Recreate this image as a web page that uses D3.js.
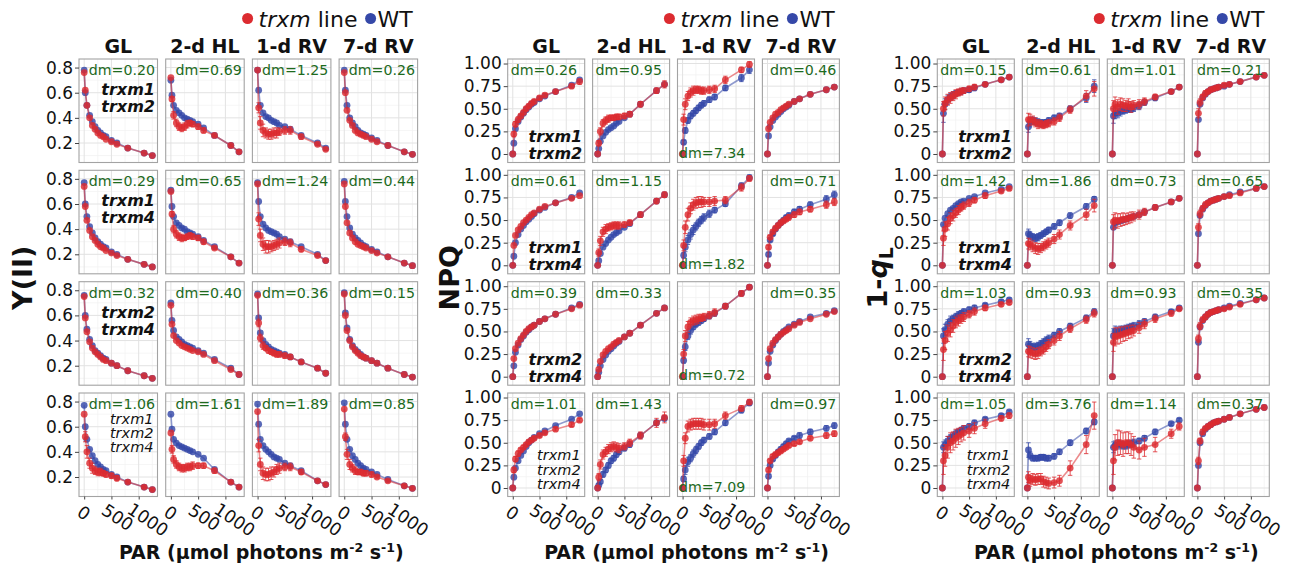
<!DOCTYPE html>
<html>
<head>
<meta charset="utf-8">
<script src="https://cdnjs.cloudflare.com/ajax/libs/d3/7.8.5/d3.min.js"></script>
<style>
  body { margin: 0; background: #fff; }
  svg { display: block; }
</style>
</head>
<body>
<svg id="chart" width="1297" height="570"></svg>
<script>
// light steps of the curve (µmol photons m-2 s-1)
const PAR = [0, 20, 50, 100, 150, 200, 250, 300, 350, 400, 500, 600, 800, 1100, 1250]
const conditions = ['GL', '2-d HL', '1-d RV', '7-d RV']
const lineLabels = [['trxm1', 'trxm2'], ['trxm1', 'trxm4'], ['trxm2', 'trxm4'], ['trxm1', 'trxm2', 'trxm4']]

// dm values, rows x conditions
const yiiDm = [['0.20', '0.69', '1.25', '0.26'], ['0.29', '0.65', '1.24', '0.44'], ['0.32', '0.40', '0.36', '0.15'], ['1.06', '1.61', '1.89', '0.85']]
const npqDm = [['0.26', '0.95', '7.34', '0.46'], ['0.61', '1.15', '1.82', '0.71'], ['0.39', '0.33', '0.72', '0.35'], ['1.01', '1.43', '7.09', '0.97']]
const qlDm = [['0.15', '0.61', '1.01', '0.21'], ['1.42', '1.86', '0.73', '0.65'], ['1.03', '0.93', '0.93', '0.35'], ['1.05', '3.76', '1.14', '0.37']]

// ---- Y(II) ----
const yiiWt = [
  [[0.78, 0.60, 0.50, 0.42, 0.37, 0.33, 0.30, 0.28, 0.26, 0.25, 0.22, 0.20, 0.16, 0.12, 0.10],
   [0.70, 0.58, 0.50, 0.46, 0.44, 0.42, 0.40, 0.39, 0.38, 0.37, 0.35, 0.32, 0.26, 0.18, 0.13],
   [0.78, 0.62, 0.50, 0.44, 0.41, 0.40, 0.38, 0.37, 0.36, 0.34, 0.33, 0.31, 0.26, 0.20, 0.16],
   [0.78, 0.62, 0.50, 0.40, 0.36, 0.33, 0.30, 0.28, 0.27, 0.26, 0.24, 0.22, 0.18, 0.13, 0.11]],
  [[0.77, 0.60, 0.50, 0.42, 0.37, 0.33, 0.30, 0.28, 0.26, 0.25, 0.22, 0.20, 0.16, 0.12, 0.10],
   [0.71, 0.58, 0.50, 0.45, 0.43, 0.41, 0.40, 0.38, 0.37, 0.36, 0.34, 0.31, 0.26, 0.18, 0.13],
   [0.77, 0.62, 0.50, 0.44, 0.41, 0.39, 0.38, 0.37, 0.36, 0.34, 0.32, 0.30, 0.26, 0.20, 0.15],
   [0.78, 0.62, 0.50, 0.41, 0.36, 0.33, 0.31, 0.29, 0.27, 0.26, 0.24, 0.22, 0.18, 0.13, 0.11]],
  [[0.76, 0.60, 0.49, 0.41, 0.36, 0.32, 0.30, 0.28, 0.26, 0.25, 0.22, 0.20, 0.16, 0.12, 0.10],
   [0.70, 0.56, 0.48, 0.43, 0.41, 0.39, 0.37, 0.36, 0.35, 0.34, 0.32, 0.30, 0.25, 0.18, 0.13],
   [0.77, 0.58, 0.46, 0.40, 0.37, 0.35, 0.33, 0.32, 0.31, 0.30, 0.29, 0.27, 0.23, 0.18, 0.14],
   [0.78, 0.62, 0.50, 0.41, 0.36, 0.33, 0.31, 0.29, 0.27, 0.26, 0.24, 0.22, 0.18, 0.13, 0.11]],
  [[0.77, 0.60, 0.50, 0.42, 0.37, 0.33, 0.30, 0.28, 0.26, 0.25, 0.22, 0.20, 0.16, 0.12, 0.10],
   [0.70, 0.58, 0.50, 0.47, 0.45, 0.44, 0.43, 0.42, 0.41, 0.40, 0.38, 0.35, 0.26, 0.16, 0.12],
   [0.78, 0.62, 0.50, 0.45, 0.42, 0.40, 0.38, 0.36, 0.35, 0.34, 0.31, 0.29, 0.25, 0.17, 0.14],
   [0.79, 0.62, 0.50, 0.42, 0.37, 0.34, 0.31, 0.29, 0.27, 0.26, 0.24, 0.22, 0.18, 0.13, 0.11]]
]
const yiiTrxm = [
  [[0.76, 0.62, 0.50, 0.40, 0.34, 0.31, 0.28, 0.26, 0.25, 0.23, 0.21, 0.19, 0.16, 0.12, 0.10],
   [0.72, 0.55, 0.42, 0.36, 0.33, 0.32, 0.33, 0.35, 0.36, 0.35, 0.33, 0.30, 0.26, 0.18, 0.13],
   [0.78, 0.48, 0.36, 0.30, 0.28, 0.27, 0.27, 0.28, 0.28, 0.29, 0.30, 0.30, 0.25, 0.19, 0.15],
   [0.76, 0.60, 0.46, 0.38, 0.34, 0.30, 0.28, 0.27, 0.26, 0.25, 0.23, 0.21, 0.18, 0.13, 0.11]],
  [[0.74, 0.58, 0.47, 0.39, 0.34, 0.31, 0.28, 0.26, 0.25, 0.23, 0.21, 0.19, 0.16, 0.12, 0.10],
   [0.70, 0.52, 0.40, 0.36, 0.34, 0.33, 0.33, 0.34, 0.35, 0.34, 0.33, 0.30, 0.25, 0.18, 0.13],
   [0.76, 0.48, 0.35, 0.28, 0.26, 0.26, 0.26, 0.27, 0.28, 0.29, 0.30, 0.29, 0.24, 0.19, 0.15],
   [0.76, 0.58, 0.45, 0.37, 0.33, 0.30, 0.28, 0.27, 0.26, 0.25, 0.23, 0.21, 0.18, 0.13, 0.11]],
  [[0.75, 0.58, 0.47, 0.39, 0.34, 0.31, 0.29, 0.27, 0.25, 0.24, 0.22, 0.20, 0.16, 0.12, 0.10],
   [0.68, 0.53, 0.44, 0.40, 0.38, 0.36, 0.35, 0.34, 0.33, 0.32, 0.31, 0.29, 0.24, 0.17, 0.13],
   [0.76, 0.54, 0.42, 0.36, 0.34, 0.32, 0.31, 0.30, 0.29, 0.29, 0.28, 0.27, 0.23, 0.18, 0.14],
   [0.77, 0.60, 0.48, 0.40, 0.35, 0.32, 0.30, 0.28, 0.27, 0.26, 0.24, 0.22, 0.18, 0.13, 0.11]],
  [[0.70, 0.52, 0.40, 0.31, 0.27, 0.25, 0.24, 0.24, 0.23, 0.22, 0.21, 0.19, 0.16, 0.12, 0.10],
   [0.55, 0.42, 0.34, 0.30, 0.28, 0.27, 0.27, 0.28, 0.28, 0.29, 0.29, 0.29, 0.25, 0.16, 0.12],
   [0.72, 0.45, 0.30, 0.23, 0.22, 0.22, 0.23, 0.24, 0.26, 0.27, 0.28, 0.28, 0.24, 0.17, 0.14],
   [0.74, 0.52, 0.38, 0.30, 0.27, 0.25, 0.24, 0.24, 0.23, 0.23, 0.22, 0.20, 0.17, 0.13, 0.11]]
]
const yiiTrxmErr = [
  [null,
   [0, .02, .03, .03, .03, .03, .03, .03, .02, .02, .02, .02, .01, .01, .01],
   [0, .04, .05, .05, .04, .04, .04, .04, .04, .03, .03, .03, .02, .01, .01],
   null],
  [null,
   [0, .02, .03, .03, .03, .03, .02, .02, .02, .02, .02, .02, .01, .01, .01],
   [0, .05, .05, .05, .05, .05, .04, .04, .04, .04, .03, .03, .02, .01, .01],
   null],
  [null, null,
   [0, .03, .03, .03, .02, .02, .02, .02, .02, .02, .02, .02, .01, .01, .01],
   null],
  [[0, .04, .05, .04, .04, .03, .03, .03, .02, .02, .02, .02, .01, .01, .01],
   [0, .03, .03, .03, .03, .03, .03, .03, .03, .03, .02, .02, .02, .01, .01],
   [0, .05, .05, .05, .05, .05, .05, .04, .04, .04, .03, .03, .02, .01, .01],
   [0, .03, .04, .04, .03, .03, .02, .02, .02, .02, .02, .01, .01, .01, .01]]
]

// ---- NPQ ----
const npqWt = [
  [[0, 0.12, 0.28, 0.36, 0.41, 0.45, 0.49, 0.52, 0.55, 0.57, 0.61, 0.64, 0.69, 0.76, 0.82],
   [0, 0.06, 0.14, 0.20, 0.24, 0.27, 0.29, 0.31, 0.34, 0.36, 0.40, 0.44, 0.55, 0.70, 0.77],
   [0, 0.13, 0.26, 0.37, 0.42, 0.45, 0.48, 0.51, 0.54, 0.56, 0.60, 0.63, 0.73, 0.84, 0.93],
   [0, 0.20, 0.30, 0.37, 0.41, 0.44, 0.47, 0.50, 0.52, 0.54, 0.58, 0.61, 0.66, 0.71, 0.74]],
  [[0, 0.10, 0.25, 0.34, 0.40, 0.44, 0.48, 0.51, 0.54, 0.57, 0.61, 0.64, 0.69, 0.75, 0.80],
   [0, 0.05, 0.13, 0.20, 0.24, 0.28, 0.31, 0.34, 0.36, 0.38, 0.42, 0.46, 0.56, 0.71, 0.78],
   [0, 0.11, 0.20, 0.28, 0.34, 0.39, 0.43, 0.47, 0.50, 0.53, 0.57, 0.61, 0.68, 0.88, 0.97],
   [0, 0.12, 0.28, 0.35, 0.40, 0.44, 0.47, 0.50, 0.53, 0.55, 0.59, 0.62, 0.67, 0.73, 0.78]],
  [[0, 0.12, 0.27, 0.35, 0.41, 0.45, 0.49, 0.52, 0.55, 0.57, 0.61, 0.64, 0.69, 0.76, 0.80],
   [0, 0.05, 0.12, 0.19, 0.24, 0.28, 0.31, 0.34, 0.37, 0.39, 0.44, 0.48, 0.57, 0.70, 0.76],
   [0, 0.18, 0.33, 0.45, 0.51, 0.55, 0.58, 0.60, 0.62, 0.64, 0.67, 0.70, 0.78, 0.92, 0.99],
   [0, 0.15, 0.28, 0.35, 0.40, 0.44, 0.47, 0.50, 0.52, 0.55, 0.58, 0.61, 0.66, 0.70, 0.73]],
  [[0, 0.12, 0.22, 0.30, 0.36, 0.41, 0.46, 0.50, 0.53, 0.56, 0.60, 0.63, 0.69, 0.76, 0.82],
   [0, 0.03, 0.07, 0.15, 0.20, 0.25, 0.30, 0.33, 0.37, 0.40, 0.44, 0.48, 0.58, 0.72, 0.77],
   [0, 0.10, 0.20, 0.29, 0.33, 0.38, 0.42, 0.46, 0.50, 0.53, 0.57, 0.62, 0.72, 0.86, 0.94],
   [0, 0.13, 0.25, 0.32, 0.36, 0.40, 0.43, 0.46, 0.49, 0.52, 0.55, 0.58, 0.62, 0.66, 0.69]]
]
const npqTrxm = [
  [[0, 0.22, 0.33, 0.38, 0.42, 0.46, 0.50, 0.53, 0.56, 0.58, 0.62, 0.65, 0.69, 0.75, 0.80],
   [0, 0.12, 0.25, 0.34, 0.37, 0.39, 0.40, 0.40, 0.41, 0.41, 0.42, 0.44, 0.55, 0.70, 0.77],
   [0, 0.38, 0.55, 0.64, 0.68, 0.70, 0.71, 0.71, 0.70, 0.70, 0.71, 0.72, 0.82, 0.93, 0.99],
   [0, 0.28, 0.35, 0.40, 0.44, 0.46, 0.49, 0.51, 0.53, 0.55, 0.58, 0.61, 0.66, 0.71, 0.74]],
  [[0, 0.22, 0.33, 0.39, 0.43, 0.47, 0.50, 0.53, 0.56, 0.58, 0.62, 0.65, 0.69, 0.74, 0.77],
   [0, 0.14, 0.27, 0.37, 0.40, 0.42, 0.43, 0.44, 0.44, 0.44, 0.45, 0.47, 0.56, 0.71, 0.78],
   [0, 0.22, 0.42, 0.56, 0.63, 0.67, 0.69, 0.70, 0.70, 0.70, 0.70, 0.71, 0.72, 0.86, 0.96],
   [0, 0.20, 0.31, 0.37, 0.41, 0.44, 0.47, 0.49, 0.51, 0.53, 0.56, 0.59, 0.62, 0.67, 0.70]],
  [[0, 0.20, 0.31, 0.37, 0.42, 0.46, 0.50, 0.53, 0.55, 0.57, 0.61, 0.64, 0.69, 0.75, 0.79],
   [0, 0.08, 0.17, 0.24, 0.28, 0.31, 0.33, 0.36, 0.38, 0.40, 0.44, 0.48, 0.57, 0.70, 0.76],
   [0, 0.25, 0.45, 0.55, 0.60, 0.62, 0.63, 0.64, 0.65, 0.66, 0.68, 0.71, 0.78, 0.92, 0.99],
   [0, 0.20, 0.31, 0.37, 0.41, 0.44, 0.47, 0.49, 0.51, 0.53, 0.57, 0.60, 0.64, 0.69, 0.72]],
  [[0, 0.20, 0.32, 0.38, 0.42, 0.45, 0.48, 0.51, 0.53, 0.55, 0.58, 0.61, 0.65, 0.70, 0.75],
   [0, 0.12, 0.26, 0.37, 0.40, 0.43, 0.45, 0.46, 0.45, 0.44, 0.46, 0.50, 0.58, 0.72, 0.78],
   [0, 0.30, 0.55, 0.68, 0.70, 0.71, 0.71, 0.71, 0.71, 0.70, 0.70, 0.71, 0.80, 0.88, 0.95],
   [0, 0.20, 0.30, 0.35, 0.37, 0.39, 0.41, 0.43, 0.45, 0.47, 0.49, 0.51, 0.55, 0.58, 0.60]]
]
const npqWtErr = [
  [null, null, [0, .02, .03, .03, .03, .03, .03, .03, .03, .03, .03, .03, .03, .04, .04], null],
  [null, null,
   [0, .03, .05, .05, .05, .05, .04, .04, .04, .04, .04, .03, .03, .03, .03],
   [0, .02, .02, .02, .02, .02, .02, .02, .02, .03, .03, .03, .03, .04, .04]],
  [null, null, [0, .03, .04, .04, .04, .03, .03, .03, .03, .03, .03, .03, .03, .02, .02], null],
  [null,
   [0, .02, .02, .03, .03, .03, .03, .03, .03, .03, .03, .03, .03, .03, .03],
   [0, .03, .05, .05, .04, .04, .04, .03, .03, .03, .03, .03, .03, .03, .03],
   [0, .02, .02, .02, .02, .02, .02, .02, .02, .02, .02, .03, .03, .03, .03]]
]
const npqTrxmErr = [
  [[0, .03, .03, .03, .02, .02, .02, .02, .02, .02, .02, .02, .02, .02, .03],
   [0, .03, .04, .04, .04, .04, .03, .03, .03, .03, .03, .03, .03, .03, .04],
   [0, .06, .06, .05, .05, .05, .04, .04, .04, .04, .04, .04, .04, .03, .03],
   null],
  [null,
   [0, .04, .05, .05, .05, .04, .04, .04, .04, .04, .03, .03, .03, .03, .03],
   [0, .06, .07, .07, .06, .06, .06, .06, .06, .05, .05, .05, .04, .04, .03],
   [0, .02, .02, .02, .02, .02, .02, .02, .02, .03, .03, .03, .03, .04, .04]],
  [null, null, [0, .05, .06, .06, .05, .05, .05, .05, .04, .04, .04, .04, .03, .03, .02], null],
  [[0, .03, .03, .03, .02, .02, .02, .02, .02, .02, .02, .02, .02, .02, .02],
   [0, .04, .05, .05, .05, .05, .05, .05, .05, .05, .04, .04, .04, .05, .06],
   [0, .06, .06, .06, .06, .06, .06, .06, .06, .06, .06, .05, .04, .03, .03],
   [0, .02, .02, .02, .02, .02, .02, .02, .02, .02, .02, .02, .02, .03, .03]]
]

// ---- 1-qL ----
const qlWt = [
  [[0, 0.45, 0.55, 0.60, 0.63, 0.65, 0.67, 0.68, 0.69, 0.70, 0.71, 0.73, 0.77, 0.82, 0.85],
   [0, 0.30, 0.35, 0.37, 0.36, 0.35, 0.34, 0.34, 0.35, 0.37, 0.40, 0.42, 0.50, 0.62, 0.75],
   [0, 0.42, 0.45, 0.45, 0.47, 0.48, 0.49, 0.50, 0.50, 0.51, 0.53, 0.57, 0.62, 0.69, 0.74],
   [0, 0.38, 0.55, 0.62, 0.66, 0.69, 0.71, 0.72, 0.73, 0.74, 0.75, 0.77, 0.80, 0.85, 0.87]],
  [[0, 0.45, 0.52, 0.57, 0.61, 0.63, 0.66, 0.68, 0.70, 0.71, 0.74, 0.76, 0.80, 0.84, 0.87],
   [0, 0.35, 0.33, 0.31, 0.30, 0.31, 0.33, 0.35, 0.37, 0.39, 0.43, 0.47, 0.55, 0.65, 0.73],
   [0, 0.42, 0.47, 0.48, 0.49, 0.50, 0.51, 0.52, 0.53, 0.54, 0.56, 0.59, 0.64, 0.70, 0.74],
   [0, 0.35, 0.55, 0.62, 0.66, 0.69, 0.71, 0.72, 0.73, 0.74, 0.76, 0.78, 0.81, 0.85, 0.87]],
  [[0, 0.45, 0.52, 0.58, 0.62, 0.64, 0.66, 0.68, 0.70, 0.72, 0.74, 0.76, 0.79, 0.83, 0.85],
   [0, 0.36, 0.34, 0.33, 0.33, 0.34, 0.36, 0.38, 0.40, 0.42, 0.46, 0.50, 0.56, 0.65, 0.72],
   [0, 0.45, 0.50, 0.50, 0.51, 0.52, 0.53, 0.54, 0.55, 0.56, 0.58, 0.61, 0.66, 0.72, 0.76],
   [0, 0.38, 0.55, 0.62, 0.66, 0.69, 0.71, 0.72, 0.73, 0.74, 0.76, 0.78, 0.81, 0.85, 0.87]],
  [[0, 0.45, 0.48, 0.52, 0.55, 0.57, 0.60, 0.62, 0.64, 0.66, 0.68, 0.72, 0.76, 0.80, 0.84],
   [0, 0.42, 0.36, 0.33, 0.33, 0.33, 0.34, 0.34, 0.33, 0.33, 0.35, 0.40, 0.50, 0.63, 0.73],
   [0, 0.45, 0.47, 0.48, 0.48, 0.47, 0.47, 0.48, 0.49, 0.50, 0.52, 0.55, 0.62, 0.71, 0.75],
   [0, 0.25, 0.50, 0.60, 0.65, 0.68, 0.70, 0.72, 0.73, 0.74, 0.76, 0.78, 0.82, 0.87, 0.89]]
]
const qlTrxm = [
  [[0, 0.50, 0.56, 0.60, 0.62, 0.64, 0.66, 0.68, 0.69, 0.70, 0.72, 0.74, 0.77, 0.82, 0.85],
   [0, 0.38, 0.38, 0.37, 0.35, 0.33, 0.33, 0.32, 0.33, 0.34, 0.36, 0.40, 0.49, 0.64, 0.72],
   [0, 0.50, 0.55, 0.52, 0.55, 0.54, 0.53, 0.55, 0.52, 0.54, 0.55, 0.58, 0.63, 0.69, 0.74],
   [0, 0.45, 0.57, 0.63, 0.67, 0.69, 0.71, 0.72, 0.73, 0.74, 0.76, 0.77, 0.80, 0.85, 0.87]],
  [[0, 0.30, 0.40, 0.46, 0.52, 0.55, 0.58, 0.61, 0.64, 0.66, 0.69, 0.72, 0.77, 0.82, 0.85],
   [0, 0.24, 0.23, 0.21, 0.19, 0.18, 0.19, 0.21, 0.23, 0.25, 0.29, 0.34, 0.44, 0.56, 0.66],
   [0, 0.48, 0.50, 0.49, 0.50, 0.51, 0.51, 0.52, 0.53, 0.54, 0.56, 0.59, 0.64, 0.70, 0.74],
   [0, 0.42, 0.57, 0.63, 0.67, 0.69, 0.71, 0.72, 0.73, 0.74, 0.76, 0.77, 0.80, 0.85, 0.87]],
  [[0, 0.30, 0.40, 0.48, 0.52, 0.56, 0.60, 0.62, 0.64, 0.66, 0.69, 0.72, 0.76, 0.80, 0.82],
   [0, 0.28, 0.27, 0.26, 0.25, 0.26, 0.28, 0.30, 0.33, 0.36, 0.40, 0.45, 0.53, 0.63, 0.70],
   [0, 0.38, 0.44, 0.45, 0.46, 0.47, 0.48, 0.49, 0.50, 0.51, 0.54, 0.58, 0.64, 0.70, 0.75],
   [0, 0.42, 0.56, 0.63, 0.66, 0.69, 0.71, 0.72, 0.73, 0.74, 0.75, 0.77, 0.80, 0.85, 0.87]],
  [[0, 0.30, 0.36, 0.45, 0.50, 0.52, 0.55, 0.57, 0.59, 0.61, 0.63, 0.66, 0.71, 0.77, 0.80],
   [0, 0.12, 0.08, 0.10, 0.09, 0.10, 0.10, 0.07, 0.06, 0.05, 0.06, 0.08, 0.22, 0.48, 0.80],
   [0, 0.30, 0.45, 0.50, 0.50, 0.48, 0.50, 0.50, 0.48, 0.45, 0.42, 0.45, 0.48, 0.60, 0.68],
   [0, 0.30, 0.52, 0.62, 0.66, 0.68, 0.70, 0.72, 0.73, 0.74, 0.76, 0.78, 0.82, 0.87, 0.89]]
]
const qlWtErr = [
  [[0, .10, .06, .05, .04, .04, .03, .03, .03, .03, .03, .03, .02, .02, .02],
   [0, .06, .05, .04, .04, .04, .04, .04, .03, .03, .03, .03, .03, .05, .07],
   [0, .08, .06, .05, .05, .04, .04, .04, .04, .04, .04, .03, .03, .02, .02],
   null],
  [null, [0, .05, .04, .04, .04, .04, .03, .03, .03, .03, .03, .03, .03, .03, .03], null, null],
  [[0, .08, .06, .05, .05, .04, .04, .04, .03, .03, .03, .03, .02, .02, .02],
   [0, .06, .05, .04, .04, .04, .04, .04, .04, .04, .03, .03, .03, .03, .03],
   [0, .08, .06, .05, .05, .04, .04, .04, .04, .04, .04, .03, .03, .02, .02],
   null],
  [[0, .06, .05, .05, .04, .04, .04, .03, .03, .03, .03, .03, .02, .02, .02],
   [0, .08, .04, .03, .03, .03, .03, .03, .03, .03, .03, .03, .03, .03, .03],
   [0, .06, .05, .05, .04, .04, .04, .04, .04, .04, .03, .03, .03, .02, .02],
   null]
]
const qlTrxmErr = [
  [[0, .08, .07, .06, .06, .05, .05, .04, .04, .03, .03, .03, .02, .02, .02],
   [0, .07, .06, .05, .05, .05, .04, .04, .04, .04, .04, .04, .04, .06, .08],
   [0, .09, .08, .08, .07, .07, .06, .06, .06, .05, .05, .04, .03, .02, .02],
   [0, .05, .04, .03, .03, .02, .02, .02, .02, .02, .02, .02, .02, .02, .02]],
  [[0, .08, .08, .07, .06, .06, .05, .05, .04, .04, .04, .03, .03, .02, .02],
   [0, .06, .06, .06, .06, .06, .05, .05, .05, .05, .05, .05, .05, .06, .07],
   [0, .08, .08, .08, .07, .07, .06, .06, .06, .05, .05, .04, .03, .02, .02],
   [0, .04, .04, .03, .03, .02, .02, .02, .02, .02, .02, .02, .02, .02, .02]],
  [[0, .12, .10, .09, .08, .07, .06, .06, .05, .05, .04, .04, .03, .02, .02],
   [0, .06, .06, .06, .06, .06, .05, .05, .05, .05, .05, .05, .04, .04, .04],
   [0, .10, .10, .09, .09, .08, .08, .07, .07, .06, .06, .05, .04, .03, .02],
   [0, .04, .04, .03, .03, .02, .02, .02, .02, .02, .02, .02, .02, .02, .02]],
  [[0, .15, .12, .12, .11, .10, .10, .09, .08, .08, .07, .06, .05, .03, .03],
   [0, .06, .06, .06, .06, .06, .06, .06, .06, .06, .06, .06, .08, .10, .15],
   [0, .15, .14, .14, .13, .13, .12, .12, .12, .12, .10, .10, .08, .05, .04],
   [0, .04, .03, .03, .02, .02, .02, .02, .02, .02, .02, .02, .02, .02, .02]]
]

// ---- drawing ----
const FONT = "'DejaVu Sans', Verdana, sans-serif"
const RED = '#dc2b30'
const BLUE = '#3548a8'
const DM_GREEN = '#1d6a1d'
const rowTop = [59, 170.3, 281.7, 393]
const rowH = 103.5
const fmt2 = (v) => (v === 0 ? '0' : d3.format('.2f')(v))

const panels = [
  { id: 'yii', left: 79, step: 86.7, w: 78.5, yDomain: [0.045, 0.868],
    ticks: [0.2, 0.4, 0.6, 0.8], minor: [0.1, 0.3, 0.5, 0.7], fmt: d3.format('.1f'),
    wt: yiiWt, trxm: yiiTrxm, wtErr: null, trxmErr: yiiTrxmErr, dm: yiiDm,
    notesTop: true, titleX: 32 },
  { id: 'npq', left: 507.7, step: 84.9, w: 77, yDomain: [-0.094, 1.05],
    ticks: [0, 0.25, 0.5, 0.75, 1], minor: [0.125, 0.375, 0.625, 0.875], fmt: fmt2,
    wt: npqWt, trxm: npqTrxm, wtErr: npqWtErr, trxmErr: npqTrxmErr, dm: npqDm,
    notesTop: false, titleX: 459 },
  { id: 'ql', left: 937.3, step: 85, w: 77, yDomain: [-0.094, 1.05],
    ticks: [0, 0.25, 0.5, 0.75, 1], minor: [0.125, 0.375, 0.625, 0.875], fmt: fmt2,
    wt: qlWt, trxm: qlTrxm, wtErr: qlWtErr, trxmErr: qlTrxmErr, dm: qlDm,
    notesTop: false, titleX: 887 }
]

const svg = d3.select('#chart').style('font-family', FONT)
const defs = svg.append('defs')

function dmPlacement(p, c, w) {
  if (p.id === 'yii') return { anchor: 'end', x: w - 2.5, y: 16 }
  if (p.id === 'npq' && c === 2) return { anchor: 'start', x: 1.5, y: 98.5 }
  if (c === 3) return { anchor: 'end', x: w - (p.id === 'npq' ? 3 : 6), y: 16 }
  return { anchor: 'start', x: 3, y: 16 }
}

function drawSeries(g, x, y, values, errs, color) {
  const pts = PAR.map((v, i) => ({ x: v, y: values[i], e: errs ? errs[i] : 0 }))
  const line = d3.line().x((d) => x(d.x)).y((d) => y(d.y))
  g.append('path')
    .datum(pts)
    .attr('d', line)
    .attr('fill', 'none')
    .attr('stroke', color)
    .attr('stroke-width', 1.6)
    .attr('stroke-opacity', 0.55)
  if (errs) {
    const eb = g.append('g').attr('stroke', color).attr('stroke-width', 1).attr('stroke-opacity', 0.8)
    pts.filter((d) => d.e > 0).forEach((d) => {
      const cx = x(d.x)
      const y1 = y(d.y - d.e)
      const y2 = y(d.y + d.e)
      eb.append('line').attr('x1', cx).attr('x2', cx).attr('y1', y1).attr('y2', y2)
      eb.append('line').attr('x1', cx - 2.2).attr('x2', cx + 2.2).attr('y1', y1).attr('y2', y1)
      eb.append('line').attr('x1', cx - 2.2).attr('x2', cx + 2.2).attr('y1', y2).attr('y2', y2)
    })
  }
  g.append('g')
    .selectAll('circle')
    .data(pts)
    .join('circle')
    .attr('cx', (d) => x(d.x))
    .attr('cy', (d) => y(d.y))
    .attr('r', 3.4)
    .attr('fill', color)
    .attr('fill-opacity', 0.82)
}

panels.forEach((p) => {
  const w = p.w
  const x = d3.scaleLinear().domain([-95, 1345]).range([0, w])
  const y = d3.scaleLinear().domain(p.yDomain).range([rowH, 0])
  const clipId = 'clip-' + p.id
  defs.append('clipPath').attr('id', clipId)
    .append('rect').attr('width', w).attr('height', rowH)

  const right = p.left + 3 * p.step + w

  // legend
  const lg = svg.append('g').style('font-size', '22px')
  lg.append('circle').attr('cx', right - 170).attr('cy', 18.5).attr('r', 5.5).attr('fill', RED)
  const lt = lg.append('text').attr('x', right - 159).attr('y', 26.5).attr('fill', '#111')
  lt.append('tspan').attr('font-style', 'italic').text('trxm')
  lt.append('tspan').text(' line')
  lg.append('circle').attr('cx', right - 47).attr('cy', 18.5).attr('r', 5.5).attr('fill', BLUE)
  lg.append('text').attr('x', right - 40).attr('y', 26.5).attr('fill', '#111').text('WT')

  // strip labels
  conditions.forEach((cond, c) => {
    svg.append('text')
      .attr('x', p.left + c * p.step + w / 2)
      .attr('y', 53)
      .attr('text-anchor', 'middle')
      .attr('font-weight', 'bold')
      .style('font-size', '19px')
      .attr('fill', '#111')
      .text(cond)
  })

  for (let r = 0; r < 4; r++) {
    for (let c = 0; c < 4; c++) {
      const g = svg.append('g')
        .attr('transform', `translate(${p.left + c * p.step},${rowTop[r]})`)

      g.append('rect').attr('width', w).attr('height', rowH).attr('fill', '#fff')

      const grid = g.append('g')
      ;[250, 750, 1250].forEach((v) => grid.append('line')
        .attr('x1', x(v)).attr('x2', x(v)).attr('y1', 0).attr('y2', rowH)
        .attr('stroke', '#f0f0f0').attr('stroke-width', 0.7))
      p.minor.forEach((v) => grid.append('line')
        .attr('x1', 0).attr('x2', w).attr('y1', y(v)).attr('y2', y(v))
        .attr('stroke', '#f0f0f0').attr('stroke-width', 0.7))
      ;[0, 500, 1000].forEach((v) => grid.append('line')
        .attr('x1', x(v)).attr('x2', x(v)).attr('y1', 0).attr('y2', rowH)
        .attr('stroke', '#e2e2e2').attr('stroke-width', 1))
      p.ticks.forEach((v) => grid.append('line')
        .attr('x1', 0).attr('x2', w).attr('y1', y(v)).attr('y2', y(v))
        .attr('stroke', '#e2e2e2').attr('stroke-width', 1))

      const plot = g.append('g').attr('clip-path', `url(#${clipId})`)
      drawSeries(plot, x, y, p.wt[r][c], p.wtErr ? p.wtErr[r][c] : null, BLUE)
      drawSeries(plot, x, y, p.trxm[r][c], p.trxmErr ? p.trxmErr[r][c] : null, RED)

      g.append('rect').attr('width', w).attr('height', rowH)
        .attr('fill', 'none').attr('stroke', '#a3a3a3').attr('stroke-width', 1.1)

      // dm label
      const dp = dmPlacement(p, c, w)
      g.append('text')
        .attr('x', dp.x).attr('y', dp.y)
        .attr('text-anchor', dp.anchor)
        .attr('fill', DM_GREEN)
        .style('font-size', '14.2px')
        .text('dm=' + p.dm[r][c])

      // genotype notes in the first column
      if (c === 0) {
        const names = lineLabels[r]
        const three = names.length === 3
        let base
        if (p.notesTop) base = three ? [31, 45, 59] : [36, 53]
        else base = three ? [67, 81.5, 96] : [83, 100]
        names.forEach((n, i) => {
          g.append('text')
            .attr('x', w - (three ? 4 : 2.5))
            .attr('y', base[i])
            .attr('text-anchor', 'end')
            .attr('font-style', 'italic')
            .attr('font-weight', three ? 'normal' : 'bold')
            .style('font-size', three ? '14.5px' : '16px')
            .attr('fill', '#111')
            .text(n)
        })

        const ya = g.append('g')
          .call(d3.axisLeft(y).tickValues(p.ticks).tickFormat(p.fmt).tickSize(4).tickPadding(2))
        ya.select('.domain').remove()
        ya.selectAll('line').attr('stroke', '#444')
        ya.selectAll('text').style('font-size', '17px').attr('fill', '#111').style('font-family', FONT)
      }

      if (r === 3) {
        const xa = g.append('g').attr('transform', `translate(0,${rowH})`)
          .call(d3.axisBottom(x).tickValues([0, 500, 1000]).tickSize(3).tickFormat(''))
        xa.select('.domain').remove()
        xa.selectAll('line').attr('stroke', '#444')
        ;[0, 500, 1000].forEach((v) => {
          const t = g.append('text')
            .attr('text-anchor', 'start')
            .attr('transform', `translate(${x(v)},${rowH + 9}) rotate(34)`)
            .attr('dy', '0.72em')
            .style('font-size', '17.5px')
            .attr('fill', '#111')
            .text(String(v))
          const len = t.node().getComputedTextLength()
          t.attr('dx', -0.15 * len)
        })
      }
    }
  }

  // x title
  const xt = svg.append('text')
    .attr('x', (p.left + right) / 2 + 13)
    .attr('y', 559)
    .attr('text-anchor', 'middle')
    .attr('font-weight', 'bold')
    .style('font-size', '19px')
    .attr('fill', '#111')
  xt.append('tspan').text('PAR (µmol photons m')
  xt.append('tspan').attr('dy', -7).style('font-size', '12.5px').text('-2')
  xt.append('tspan').attr('dy', 7).text(' s')
  xt.append('tspan').attr('dy', -7).style('font-size', '12.5px').text('-1')
  xt.append('tspan').attr('dy', 7).text(')')
})

// y titles
const yMid = (rowTop[0] + rowTop[3] + rowH) / 2
function yTitle(xPos) {
  return svg.append('text')
    .attr('transform', `translate(${xPos},${yMid}) rotate(-90)`)
    .attr('text-anchor', 'middle')
    .attr('font-weight', 'bold')
    .style('font-size', '27px')
    .attr('fill', '#111')
}
yTitle(panels[0].titleX).text('Y(II)')
yTitle(panels[1].titleX).text('NPQ')
const qt = yTitle(panels[2].titleX)
qt.append('tspan').text('1-')
qt.append('tspan').attr('font-style', 'italic').text('q')
qt.append('tspan').attr('dy', 6).style('font-size', '19px').text('L')
</script>
</body>
</html>
